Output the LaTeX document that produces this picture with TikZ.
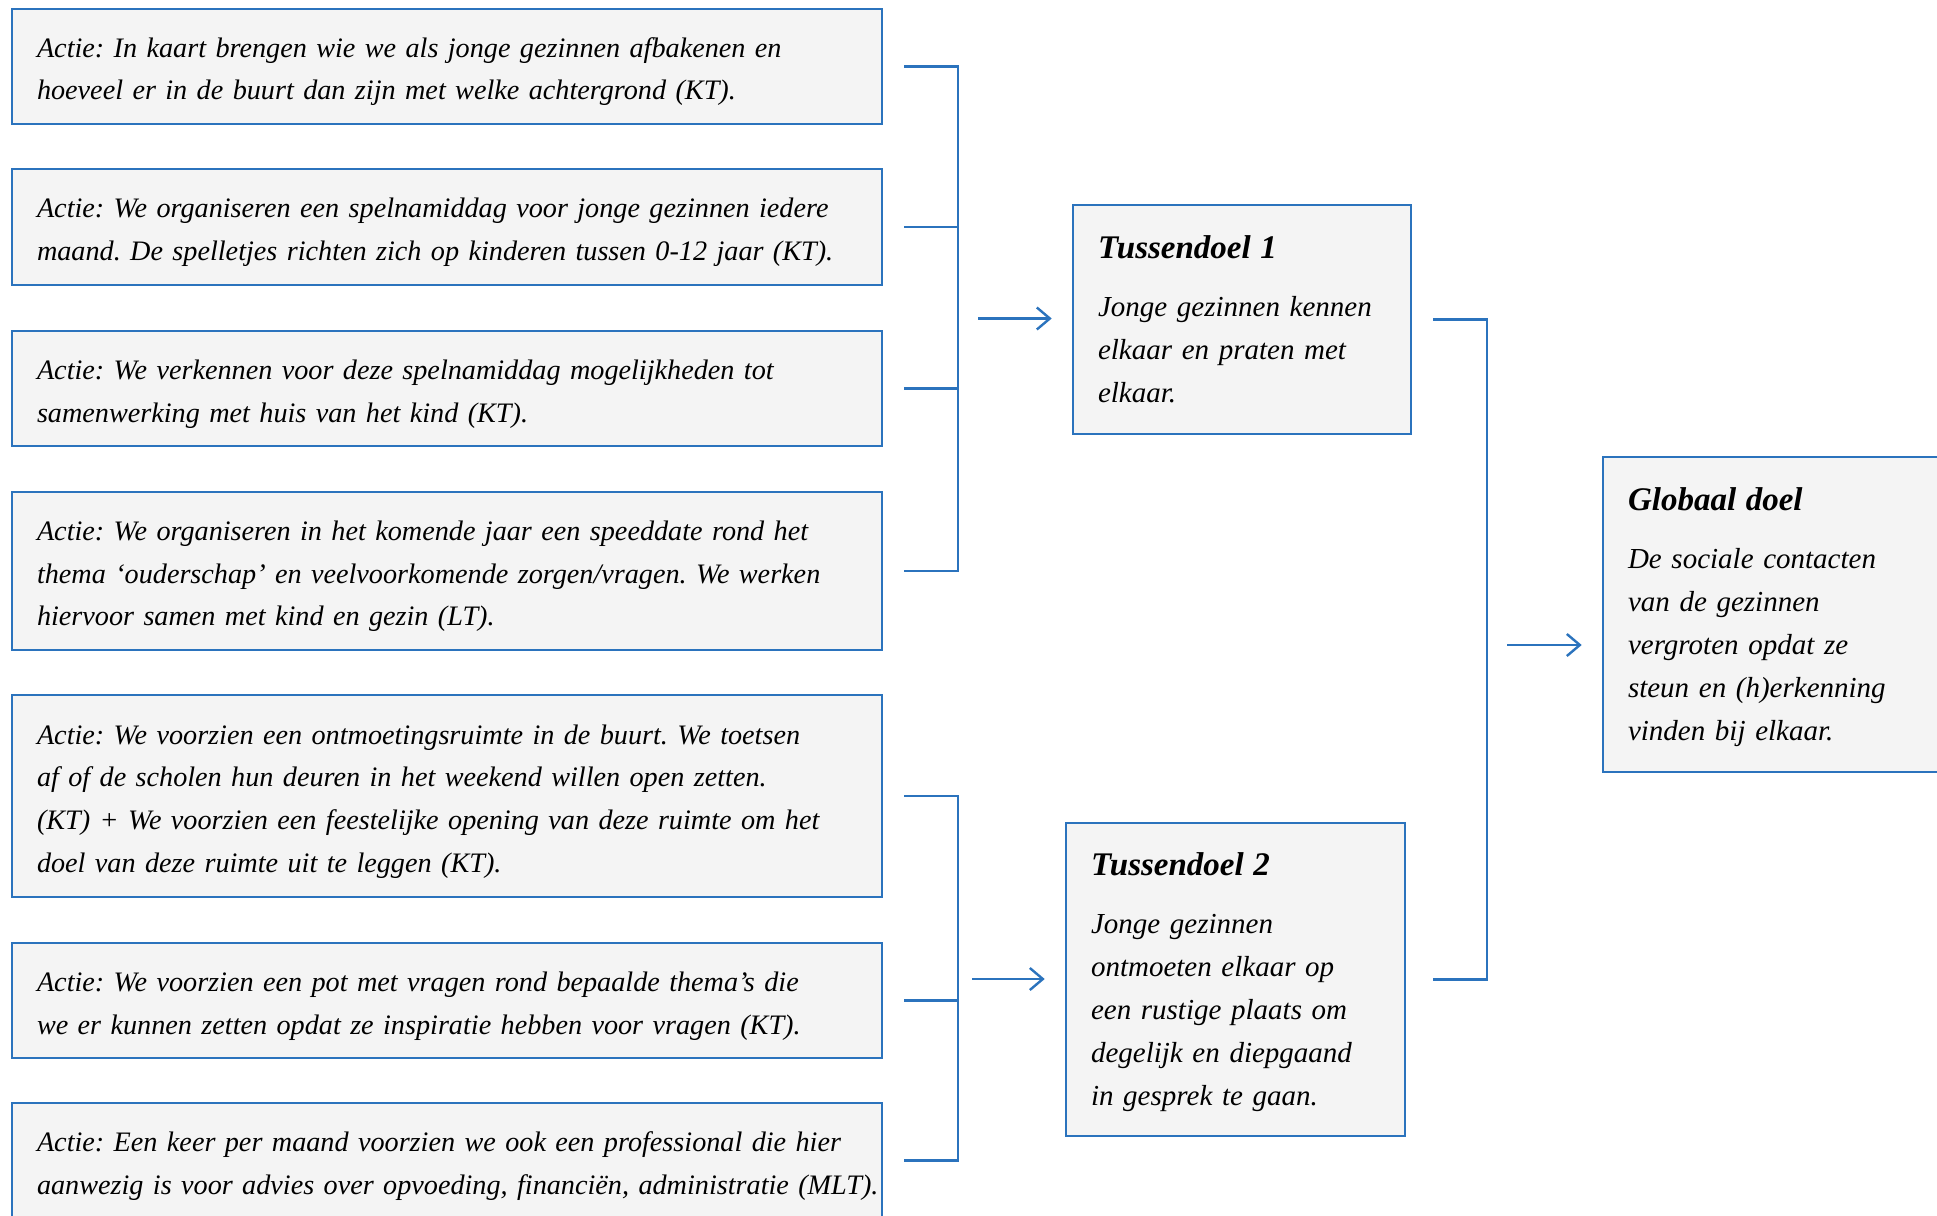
\documentclass[tikz,border=0pt]{standalone}
\usepackage{fontspec}
\setmainfont{Liberation Serif}
\usetikzlibrary{arrows.meta}
\definecolor{lineblue}{RGB}{43,115,189}
\definecolor{boxgray}{RGB}{244,244,244}
\frenchspacing
\hfuzz=200pt
\tikzset{
  boxbase/.style={draw=lineblue, line width=1.3pt, fill=boxgray, inner xsep=12.5pt, inner ysep=0pt, align=left, anchor=center},
  actbox/.style={boxbase, text width=410pt, font=\fontsize{14.1pt}{21.3pt}\selectfont\itshape},
  goalbox/.style={boxbase, font=\fontsize{14.5pt}{21.5pt}\selectfont\itshape},
  conn/.style={draw=lineblue, line width=1.2pt},
  arr/.style={conn, -{Straight Barb[length=6.5pt, width=11pt, line width=1.2pt]}}
}
\newcommand{\Ln}[1]{\mbox{#1}}
\newcommand{\topA}{\rule{0pt}{17.2pt}}
\newcommand{\botA}{\rule[-5pt]{0pt}{5pt}}
\newcommand{\topG}{\rule{0pt}{16pt}}
\newcommand{\goaltitle}[1]{\topG{\fontsize{16.5pt}{21.5pt}\selectfont\bfseries #1}\\[7.2pt]}
\begin{document}
\begin{tikzpicture}[x=0.5pt, y=-0.5pt]
\useasboundingbox (0,0) rectangle (1937,1215);
\clip (0,0) rectangle (1937,1215);
\fill[white] (0,0) rectangle (1937,1215);
% action boxes
\node[actbox, minimum height=57.5pt] (A1) at (447,66.5) {\topA\Ln{Actie: In kaart brengen wie we als jonge gezinnen afbakenen en}\\\Ln{hoeveel er in de buurt dan zijn met welke achtergrond (KT).}\botA};
\node[actbox, minimum height=58pt] (A2) at (447,227) {\topA\Ln{Actie: We organiseren een spelnamiddag voor jonge gezinnen iedere}\\\Ln{maand. De spelletjes richten zich op kinderen tussen 0-12 jaar (KT).}\botA};
\node[actbox, minimum height=57.5pt] (A3) at (447,388.5) {\topA\Ln{Actie: We verkennen voor deze spelnamiddag mogelijkheden tot}\\\Ln{samenwerking met huis van het kind (KT).}\botA};
\node[actbox, minimum height=79pt] (A4) at (447,571) {\topA\Ln{Actie: We organiseren in het komende jaar een speeddate rond het}\\\Ln{thema ‘ouderschap’ en veelvoorkomende zorgen/vragen. We werken}\\\Ln{hiervoor samen met kind en gezin (LT).}\botA};
\node[actbox, minimum height=101pt] (A5) at (447,796) {\topA\Ln{Actie: We voorzien een ontmoetingsruimte in de buurt. We toetsen}\\\Ln{af of de scholen hun deuren in het weekend willen open zetten.}\\\Ln{(KT) + We voorzien een feestelijke opening van deze ruimte om het}\\\Ln{doel van deze ruimte uit te leggen (KT).}\botA};
\node[actbox, minimum height=57.5pt] (A6) at (447,1000.5) {\topA\Ln{Actie: We voorzien een pot met vragen rond bepaalde thema’s die}\\\Ln{we er kunnen zetten opdat ze inspiratie hebben voor vragen (KT).}\botA};
\node[actbox, minimum height=57.5pt] (A7) at (447,1160.5) {\topA\Ln{Actie: Een keer per maand voorzien we ook een professional die hier}\\\Ln{aanwezig is voor advies over opvoeding, financiën, administratie (MLT).}\botA};
% goal boxes
\node[goalbox, text width=144pt, minimum height=114.5pt] (T1) at (1242,319.5) {\goaltitle{Tussendoel 1}\Ln{Jonge gezinnen kennen}\\\Ln{elkaar en praten met}\\\Ln{elkaar.}\botA};
\node[goalbox, text width=144.5pt, minimum height=156.5pt] (T2) at (1235.5,979.5) {\goaltitle{Tussendoel 2}\Ln{Jonge gezinnen}\\\Ln{ontmoeten elkaar op}\\\Ln{een rustige plaats om}\\\Ln{degelijk en diepgaand}\\\Ln{in gesprek te gaan.}\botA};
\node[goalbox, text width=155pt, minimum height=157.5pt] (G) at (1783,614.5) {\goaltitle{Globaal doel}\Ln{De sociale contacten}\\\Ln{van de gezinnen}\\\Ln{vergroten opdat ze}\\\Ln{steun en (h)erkenning}\\\Ln{vinden bij elkaar.}\botA};
% bracket 1
\coordinate (b1) at (958,0);
\coordinate (b1m) at (958,318.5);
\draw[conn] ([xshift=10.5pt]A1.east) -- (A1.east -| b1) -- (A4.east -| b1) -- ([xshift=10.5pt]A4.east);
\draw[conn] ([xshift=10.5pt]A2.east) -- (A2.east -| b1);
\draw[conn] ([xshift=10.5pt]A3.east) -- (A3.east -| b1);
\draw[arr, shorten <=10pt, shorten >=10pt] (b1m) -- (b1m -| T1.west);
% bracket 2
\coordinate (b2m) at (958,979);
\draw[conn] ([xshift=10.5pt]A5.east) -- (A5.east -| b1) -- (A7.east -| b1) -- ([xshift=10.5pt]A7.east);
\draw[conn] ([xshift=10.5pt]A6.east) -- (A6.east -| b1);
\draw[arr, shorten <=7pt, shorten >=10pt] (b2m) -- (b2m -| T2.west);
% right bracket
\coordinate (b3) at (1487,0);
\coordinate (b3m) at (1487,645);
\draw[conn] ([xshift=10.5pt]T1.east) -- (T1.east -| b3) -- (T2.east -| b3) -- ([xshift=13.5pt]T2.east);
\draw[arr, shorten <=10pt, shorten >=10pt] (b3m) -- (b3m -| G.west);
\end{tikzpicture}
\end{document}
